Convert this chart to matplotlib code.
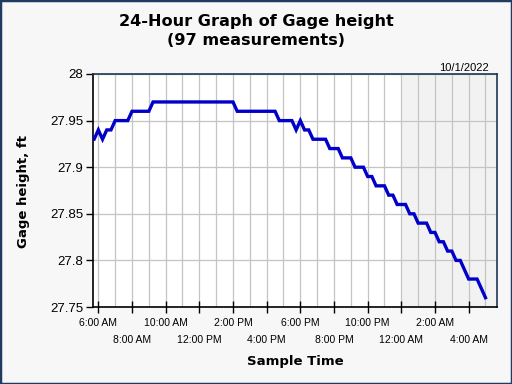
import matplotlib
matplotlib.use("Agg")
import matplotlib.pyplot as plt
import matplotlib.dates as mdates
import matplotlib.transforms as mtransforms
import pandas as pd
from matplotlib.patches import Rectangle

# ---- data ----
start_time = "2022-09-30 05:00"
interval = "15min"
gage_height = [
    27.93, 27.93, 27.93, 27.93, 27.94, 27.93, 27.94, 27.94, 27.95, 27.95,
    27.95, 27.95, 27.96, 27.96, 27.96, 27.96, 27.96,
    27.97, 27.97, 27.97, 27.97, 27.97, 27.97, 27.97, 27.97, 27.97, 27.97,
    27.97, 27.97, 27.97, 27.97, 27.97, 27.97, 27.97, 27.97, 27.97, 27.97,
    27.96, 27.96, 27.96, 27.96, 27.96, 27.96, 27.96, 27.96, 27.96, 27.96,
    27.95, 27.95, 27.95, 27.95,
    27.94, 27.95, 27.94, 27.94,
    27.93, 27.93, 27.93, 27.93,
    27.92, 27.92, 27.92,
    27.91, 27.91, 27.91,
    27.90, 27.90, 27.90,
    27.89, 27.89,
    27.88, 27.88, 27.88,
    27.87, 27.87,
    27.86, 27.86, 27.86,
    27.85, 27.85,
    27.84, 27.84, 27.84,
    27.83, 27.83,
    27.82, 27.82,
    27.81, 27.81,
    27.80, 27.80,
    27.79,
    27.78, 27.78, 27.78,
    27.77,
    27.76,
]
times = pd.date_range(start_time, periods=len(gage_height), freq=interval)

title = "24-Hour Graph of Gage height\n(97 measurements)"
x_label = "Sample Time"
y_label = "Gage height, ft"
date_label = "10/1/2022"
y_ticks = [27.75, 27.8, 27.85, 27.9, 27.95, 28]
y_tick_labels = ["27.75", "27.8", "27.85", "27.9", "27.95", "28"]
x_tick_times = pd.date_range("2022-09-30 06:00", "2022-10-01 04:00", freq="2h")
x_tick_labels = ["6:00 AM", "8:00 AM", "10:00 AM", "12:00 PM", "2:00 PM", "4:00 PM",
                 "6:00 PM", "8:00 PM", "10:00 PM", "12:00 AM", "2:00 AM", "4:00 AM"]
x_start = pd.Timestamp("2022-09-30 05:41")
x_end = pd.Timestamp("2022-10-01 05:41")
night_start = pd.Timestamp("2022-10-01 00:00")
night_end = pd.Timestamp("2022-10-01 06:00")

# ---- figure ----
fig = plt.figure(figsize=(5.12, 3.84), dpi=100, facecolor="#f7f7f7")
ax = fig.add_axes([93/512, 1-307/384, (497-93)/512, (307-74)/384])
ax.set_facecolor("white")

ax.axvspan(night_start, night_end, color="#f2f2f2", zorder=0, lw=0)

ax.plot(times, gage_height, color="#0000c8", lw=2.4, zorder=3, solid_joinstyle="miter")

ax.set_xlim(x_start, x_end)
ax.set_ylim(27.75, 28)

ax.set_yticks(y_ticks)
ax.set_yticklabels(y_tick_labels, fontsize=9.5, family="Liberation Sans")
ax.set_xticks(x_tick_times)
ax.set_xticklabels([lab if i % 2 == 0 else "" for i, lab in enumerate(x_tick_labels)],
                   fontsize=7.5, family="Liberation Sans")
ax.xaxis.set_minor_locator(mdates.HourLocator())

# staggered second row of x labels
trans = mtransforms.blended_transform_factory(ax.transData, fig.transFigure)
for i, (t, lab) in enumerate(zip(x_tick_times, x_tick_labels)):
    if i % 2 == 1:
        ax.text(mdates.date2num(t), 1-340/384, lab, transform=trans, ha="center",
                va="center", fontsize=7.5, family="Liberation Sans", clip_on=False)

ax.tick_params(axis="x", which="major", direction="inout", length=8, width=1, pad=4)
ax.tick_params(axis="x", which="minor", length=0)
ax.tick_params(axis="y", direction="out", length=5, width=1, pad=2)

ax.grid(True, axis="x", which="both", color="#c4c4c4", lw=0.9, zorder=1)
ax.grid(True, axis="y", which="major", color="#c4c4c4", lw=0.9, zorder=1)
ax.set_axisbelow(True)

for s in ["left", "bottom"]:
    ax.spines[s].set_color("black")
    ax.spines[s].set_linewidth(1.2)
for s in ["top", "right"]:
    ax.spines[s].set_color("#1f3656")
    ax.spines[s].set_linewidth(1.2)

fig.text(256/512, 1-14/384, title, ha="center", va="top", fontsize=11.6,
         fontweight="bold", family="DejaVu Sans", linespacing=1.3)
fig.text(295/512, 1-361/384, x_label, ha="center", va="center", fontsize=9.5,
         fontweight="bold", family="DejaVu Sans")
fig.text(24/512, 1-192/384, y_label, ha="center", va="center", rotation=90,
         fontsize=9.5, fontweight="bold", family="DejaVu Sans")
fig.text(489/512, 1-68/384, date_label, ha="right", va="center", fontsize=8,
         family="Liberation Sans")

fig.patches.append(Rectangle((0, 0), 1, 1, transform=fig.transFigure, fill=False,
                             edgecolor="#1f3a63", lw=2.5, zorder=10))

fig.savefig("out.png", dpi=100, facecolor=fig.get_facecolor())
